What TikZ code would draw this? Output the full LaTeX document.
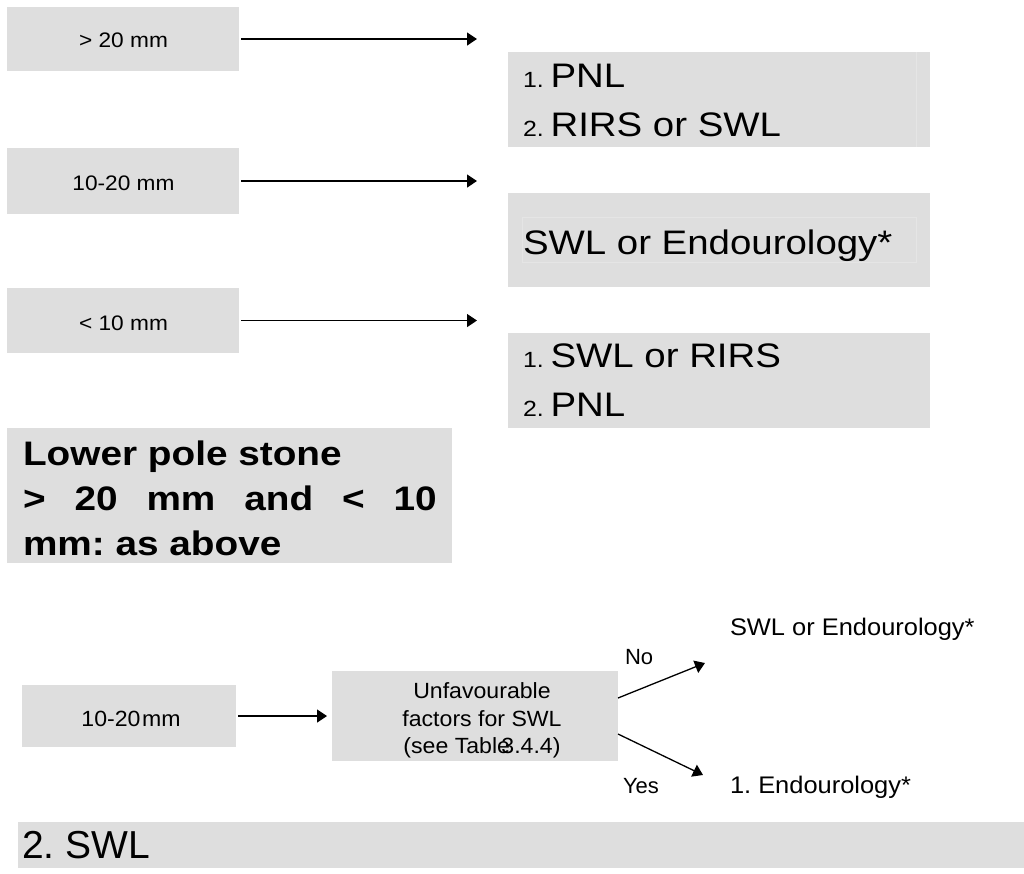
\documentclass[tikz,border=0pt]{standalone}
\usepackage{fontspec}
\setmainfont{Liberation Sans}
\usepackage{graphicx}
\usetikzlibrary{arrows.meta}
\frenchspacing
\definecolor{boxgray}{RGB}{222,222,222}
\definecolor{faintline}{RGB}{229,229,229}
\newcommand{\sx}[3]{\scalebox{#1}[1]{\fontsize{#2pt}{#2pt}\selectfont #3}}
\newcommand{\numline}[2]{\scalebox{1.13}[1]{\fontsize{22pt}{22pt}\selectfont #1\hspace{6pt}\fontsize{34pt}{34pt}\selectfont #2}}
\tikzset{
  box/.style={fill=boxgray, draw=none, inner sep=0pt, outer sep=0pt},
  txt/.style={inner sep=0pt, outer sep=0pt, text=black},
  arr/.style={line width=1.3pt, -{Triangle[length=10pt,width=13pt]}},
}
\begin{document}
\begin{tikzpicture}[x=1pt,y=-1pt]
\useasboundingbox[fill=white] (0,0) rectangle (1024,873);

% ---- left size boxes
\node[box, minimum width=232pt, minimum height=64pt] (L1) at (123,39) {};
\node[box, minimum width=232pt, minimum height=66pt] (L2) at (123,181) {};
\node[box, minimum width=232pt, minimum height=65pt] (L3) at (123,320.5) {};
\node[txt, anchor=base] (L1t) at (123.5,47) {\sx{1.08}{21}{> 20 mm}};
\node[txt, anchor=base] (L2t) at (123.5,190) {\sx{1.08}{21}{10-20 mm}};
\node[txt, anchor=base] (L3t) at (123.5,330) {\sx{1.08}{21}{< 10 mm}};

\coordinate (a1) at (477,39);
\coordinate (a2) at (477,181);
\coordinate (a3) at (477,320.5);
\draw[arr, shorten <=2pt] (L1.east) -- (a1);
\draw[arr, shorten <=2pt] (L2.east) -- (a2);
\draw[arr, shorten <=2pt] (L3.east) -- (a3);

% ---- right treatment boxes
\node[box, minimum width=422pt, minimum height=95pt] (R1) at (719,99.5) {};
\node[box, minimum width=422pt, minimum height=94pt] (R2) at (719,240) {};
\node[box, minimum width=422pt, minimum height=95pt] (R3) at (719,380.5) {};
\draw[faintline, line width=0.5pt] (916,52) -- (916,147);
\draw[faintline, line width=0.5pt] (522,217) rectangle (916,262);

\node[txt, anchor=base west] (R1a) at (523,87) {\numline{1.}{PNL}};
\node[txt, anchor=base west] (R1b) at (523,136) {\numline{2.}{RIRS or SWL}};
\node[txt, anchor=base west] (R2a) at (523,254) {\sx{1.13}{34}{SWL or Endourology*}};
\node[txt, anchor=base west] (R3a) at (523,367) {\numline{1.}{SWL or RIRS}};
\node[txt, anchor=base west] (R3b) at (523,416) {\numline{2.}{PNL}};

% ---- lower pole box
\node[box, minimum width=445pt, minimum height=135pt] (LP) at (229.5,495.5) {};
\node[txt, anchor=base west] (LP1) at (23,465) {\sx{1.14}{34}{\bfseries Lower pole stone}};
\node[txt, anchor=base west] (LP2) at (23,510) {\sx{1.14}{34}{\bfseries\makebox[363pt][s]{> 20 mm and < 10}}};
\node[txt, anchor=base west] (LP3) at (23,555) {\sx{1.14}{34}{\bfseries mm: as above}};

% ---- bottom flow
\node[box, minimum width=214pt, minimum height=62pt] (B1) at (129,716) {};
\node[txt, anchor=base] (B1t) at (131,726) {\sx{1.05}{22}{10-20\kern1.5pt mm}};
\node[box, minimum width=286pt, minimum height=90pt] (M) at (475,716) {};
\node[txt, anchor=base] (Mt1) at (482,698) {\sx{1.05}{22}{Unfavourable}};
\node[txt, anchor=base] (Mt2) at (482,726) {\sx{1.05}{22}{factors for SWL}};
\node[txt, anchor=base] (Mt3) at (482,753) {\sx{1.05}{22}{(see Table \kern-0.65em3.4.4)}};
\draw[arr, shorten <=2pt, shorten >=5pt] (B1.east) -- (M.west);

\coordinate (noE) at (705,663);
\coordinate (yesE) at (703,775);
\draw[arr] ([yshift=18pt]M.east) -- (noE);
\draw[arr] ([yshift=-18pt]M.east) -- (yesE);
\node[txt, anchor=base west] (No) at (625,664) {\sx{1}{22}{No}};
\node[txt, anchor=base west] (Yes) at (623,793) {\sx{1}{22}{Yes}};
\node[txt, anchor=base west] (O1) at (730,635) {\sx{1.06}{24}{SWL or Endourology*}};
\node[txt, anchor=base west] (O2) at (730,793) {\sx{1.06}{24}{1. Endourology*}};

% ---- bottom bar
\node[box, minimum width=1006pt, minimum height=46pt] (S) at (521,845) {};
\node[txt, anchor=base west] (St) at (22,858) {\sx{1}{39}{2. SWL}};
\end{tikzpicture}
\end{document}
